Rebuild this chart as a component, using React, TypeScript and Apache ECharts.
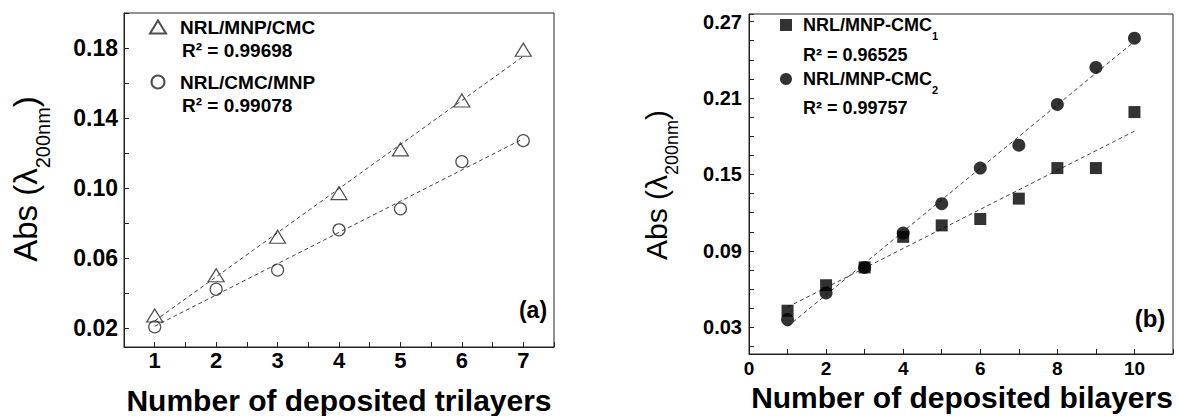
import React, { useEffect, useRef } from "react";
import * as echarts from "echarts";

// ---- data ----
const trilayers = [1, 2, 3, 4, 5, 6, 7];
const absMnpCmc = [0.027, 0.05, 0.072, 0.097, 0.122, 0.15, 0.179];
const absCmcMnp = [0.0205, 0.042, 0.053, 0.076, 0.088, 0.115, 0.127];

const bilayers = [1, 2, 3, 4, 5, 6, 7, 8, 9, 10];
const absCmc1 = [0.043, 0.063, 0.077, 0.101, 0.11, 0.115, 0.131, 0.155, 0.155, 0.199];
const absCmc2 = [0.036, 0.057, 0.077, 0.104, 0.127, 0.155, 0.173, 0.205, 0.234, 0.257];

const namesA = ["NRL/MNP/CMC", "NRL/CMC/MNP"];
const namesB = ["NRL/MNP-CMC1", "NRL/MNP-CMC2"];
const r2A = ["0.99698", "0.99078"];
const r2B = ["0.96525", "0.99757"];

const yLabelsA = [0.02, 0.06, 0.1, 0.14, 0.18];
const yLabelsB = [0.03, 0.09, 0.15, 0.21, 0.27];
const xLabelsB = [0, 2, 4, 6, 8, 10];

const FONT = "'Liberation Sans', Arial, Helvetica, sans-serif";

function zip(xs: number[], ys: number[]) {
  return xs.map((x, i) => [x, ys[i]]);
}

function fitLine(xs: number[], ys: number[]) {
  const n = xs.length;
  const mx = xs.reduce((a, b) => a + b, 0) / n;
  const my = ys.reduce((a, b) => a + b, 0) / n;
  let sxy = 0;
  let sxx = 0;
  for (let i = 0; i < n; i++) {
    sxy += (xs[i] - mx) * (ys[i] - my);
    sxx += (xs[i] - mx) * (xs[i] - mx);
  }
  const b = sxy / sxx;
  const a = my - b * mx;
  const x0 = xs[0];
  const x1 = xs[n - 1];
  return [
    [x0, a + b * x0],
    [x1, a + b * x1],
  ];
}

function isIn(list: number[], v: number) {
  return list.some((t) => Math.abs(t - v) < 1e-6);
}

export default function App() {
  const ref = useRef<HTMLDivElement>(null);

  useEffect(() => {
    if (!ref.current) return;
    const chart = echarts.init(ref.current, undefined, { renderer: "svg" });

    const axisLine = { show: true, lineStyle: { color: "#222", width: 1 } };
    const axisTick = { show: true, inside: true, length: 5, lineStyle: { color: "#222", width: 1 } };

    const hollow = { color: "rgba(255,255,255,0)", borderColor: "#222", borderWidth: 1.2 };
    const dash = { color: "#444", width: 1, type: [4, 3] as any };

    const option: any = {
      animation: false,
      backgroundColor: "#fff",
      textStyle: { fontFamily: FONT },
      grid: [
        { left: 124, top: 13, width: 430, height: 334, show: true, borderColor: "#222", borderWidth: 1, backgroundColor: "transparent" },
        { left: 749, top: 14, width: 424, height: 340, show: true, borderColor: "#222", borderWidth: 1, backgroundColor: "transparent" },
      ],
      xAxis: [
        {
          type: "value",
          gridIndex: 0,
          min: 0.5,
          max: 7.5,
          interval: 0.5,
          axisLine,
          axisTick,
          splitLine: { show: false },
          axisLabel: {
            margin: 2,
            fontSize: 22,
            fontWeight: "bold",
            color: "#000",
            fontFamily: FONT,
            formatter: (v: number) => (Number.isInteger(v) ? String(v) : ""),
          },
        },
        {
          type: "value",
          gridIndex: 1,
          min: 0,
          max: 11,
          interval: 1,
          axisLine,
          axisTick,
          splitLine: { show: false },
          axisLabel: {
            margin: 5,
            fontSize: 19,
            fontWeight: "bold",
            color: "#000",
            fontFamily: FONT,
            formatter: (v: number) => (isIn(xLabelsB, v) ? String(v) : ""),
          },
        },
      ],
      yAxis: [
        {
          type: "value",
          gridIndex: 0,
          min: 0.009,
          max: 0.2,
          minInterval: 0.02,
          maxInterval: 0.02,
          axisLine,
          axisTick,
          splitLine: { show: false },
          axisLabel: {
            margin: 6,
            fontSize: 23,
            fontWeight: "bold",
            color: "#000",
            fontFamily: FONT,
            formatter: (v: number) => (isIn(yLabelsA, v) ? v.toFixed(2) : ""),
          },
        },
        {
          type: "value",
          gridIndex: 1,
          min: 0.009,
          max: 0.276,
          minInterval: 0.015,
          maxInterval: 0.015,
          axisLine,
          axisTick,
          splitLine: { show: false },
          axisLabel: {
            margin: 7,
            fontSize: 20,
            fontWeight: "bold",
            color: "#000",
            fontFamily: FONT,
            formatter: (v: number) => (isIn(yLabelsB, v) ? v.toFixed(2) : ""),
          },
        },
      ],
      legend: [
        {
          data: namesA,
          orient: "vertical",
          left: 144,
          top: 12,
          itemWidth: 16,
          itemHeight: 13,
          itemGap: 35,
          selectedMode: false,
          textStyle: {
            fontSize: 19,
            fontWeight: "bold",
            color: "#000",
            fontFamily: FONT,
            lineHeight: 20,
            padding: [0, 0, 0, 9],
          },
        },
        {
          data: namesB,
          orient: "vertical",
          left: 775,
          top: 11,
          itemWidth: 12,
          itemHeight: 12,
          itemGap: 29,
          selectedMode: false,
          formatter: (name: string) => `{m|${name.slice(0, -1)}}{s|${name.slice(-1)}}`,
          textStyle: {
            fontFamily: FONT,
            padding: [0, 0, 0, 6],
            rich: {
              m: { fontSize: 18, fontWeight: "bold", color: "#000", lineHeight: 32, fontFamily: FONT },
              s: { fontSize: 11, fontWeight: "bold", color: "#000", lineHeight: 11, verticalAlign: "bottom", fontFamily: FONT },
            },
          },
        },
      ],
      series: [
        {
          name: "fitA1",
          type: "line",
          xAxisIndex: 0,
          yAxisIndex: 0,
          data: fitLine(trilayers, absMnpCmc),
          showSymbol: false,
          lineStyle: dash,
          z: 1,
        },
        {
          name: "fitA2",
          type: "line",
          xAxisIndex: 0,
          yAxisIndex: 0,
          data: fitLine(trilayers, absCmcMnp),
          showSymbol: false,
          lineStyle: dash,
          z: 1,
        },
        {
          name: namesA[0],
          type: "scatter",
          xAxisIndex: 0,
          yAxisIndex: 0,
          symbol: "triangle",
          symbolSize: [16, 13],
          itemStyle: hollow,
          data: zip(trilayers, absMnpCmc),
          z: 3,
        },
        {
          name: namesA[1],
          type: "scatter",
          xAxisIndex: 0,
          yAxisIndex: 0,
          symbol: "circle",
          symbolSize: 12,
          itemStyle: hollow,
          data: zip(trilayers, absCmcMnp),
          z: 3,
        },
        {
          name: "fitB1",
          type: "line",
          xAxisIndex: 1,
          yAxisIndex: 1,
          data: fitLine(bilayers, absCmc1),
          showSymbol: false,
          lineStyle: dash,
          z: 1,
        },
        {
          name: "fitB2",
          type: "line",
          xAxisIndex: 1,
          yAxisIndex: 1,
          data: fitLine(bilayers, absCmc2),
          showSymbol: false,
          lineStyle: dash,
          z: 1,
        },
        {
          name: namesB[0],
          type: "scatter",
          xAxisIndex: 1,
          yAxisIndex: 1,
          symbol: "rect",
          symbolSize: 12,
          itemStyle: { color: "#000" },
          data: zip(bilayers, absCmc1),
          z: 3,
        },
        {
          name: namesB[1],
          type: "scatter",
          xAxisIndex: 1,
          yAxisIndex: 1,
          symbol: "circle",
          symbolSize: 13,
          itemStyle: { color: "#000" },
          data: zip(bilayers, absCmc2),
          z: 3,
        },
      ],
      graphic: [
        // R² labels panel (a)
        {
          type: "text",
          x: 182,
          y: 50,
          style: { text: `R² = ${r2A[0]}`, fontSize: 19, fontWeight: "bold", fontFamily: FONT, fill: "#000", align: "left", verticalAlign: "middle" },
        },
        {
          type: "text",
          x: 182,
          y: 105,
          style: { text: `R² = ${r2A[1]}`, fontSize: 19, fontWeight: "bold", fontFamily: FONT, fill: "#000", align: "left", verticalAlign: "middle" },
        },
        // R² labels panel (b)
        {
          type: "text",
          x: 803,
          y: 55,
          style: { text: `R² = ${r2B[0]}`, fontSize: 18, fontWeight: "bold", fontFamily: FONT, fill: "#000", align: "left", verticalAlign: "middle" },
        },
        {
          type: "text",
          x: 803,
          y: 108,
          style: { text: `R² = ${r2B[1]}`, fontSize: 18, fontWeight: "bold", fontFamily: FONT, fill: "#000", align: "left", verticalAlign: "middle" },
        },
        // panel tags
        {
          type: "text",
          x: 533,
          y: 310,
          style: { text: "(a)", fontSize: 23, fontWeight: "bold", fontFamily: FONT, fill: "#000", align: "center", verticalAlign: "middle" },
        },
        {
          type: "text",
          x: 1150,
          y: 318,
          style: { text: "(b)", fontSize: 24, fontWeight: "bold", fontFamily: FONT, fill: "#000", align: "center", verticalAlign: "middle" },
        },
        // x-axis titles
        {
          type: "text",
          x: 339,
          y: 400,
          style: { text: "Number of deposited trilayers", fontSize: 30, fontWeight: "bold", fontFamily: FONT, fill: "#000", align: "center", verticalAlign: "middle" },
        },
        {
          type: "text",
          x: 962,
          y: 397,
          style: { text: "Number of deposited bilayers", fontSize: 30, fontWeight: "bold", fontFamily: FONT, fill: "#000", align: "center", verticalAlign: "middle" },
        },
        // y-axis titles
        {
          type: "text",
          x: 25,
          y: 179,
          rotation: Math.PI / 2,
          style: {
            text: "{m|Abs (λ}{s|200nm}{m|)}",
            align: "center",
            verticalAlign: "middle",
            rich: {
              m: { fontSize: 33, lineHeight: 55, fontFamily: FONT, fill: "#000" },
              s: { fontSize: 20, lineHeight: 20, verticalAlign: "bottom", fontFamily: FONT, fill: "#000" },
            },
          },
        },
        {
          type: "text",
          x: 656,
          y: 185,
          rotation: Math.PI / 2,
          style: {
            text: "{m|Abs (λ}{s|200nm}{m|)}",
            align: "center",
            verticalAlign: "middle",
            rich: {
              m: { fontSize: 30, lineHeight: 50, fontFamily: FONT, fill: "#000" },
              s: { fontSize: 18, lineHeight: 18, verticalAlign: "bottom", fontFamily: FONT, fill: "#000" },
            },
          },
        },
      ],
    };

    chart.setOption(option);
    return () => {
      chart.dispose();
    };
  }, []);

  return (
    <div
      ref={ref}
      style={{ position: "absolute", left: 0, top: 0, width: 1180, height: 416, background: "#fff" }}
    />
  );
}
